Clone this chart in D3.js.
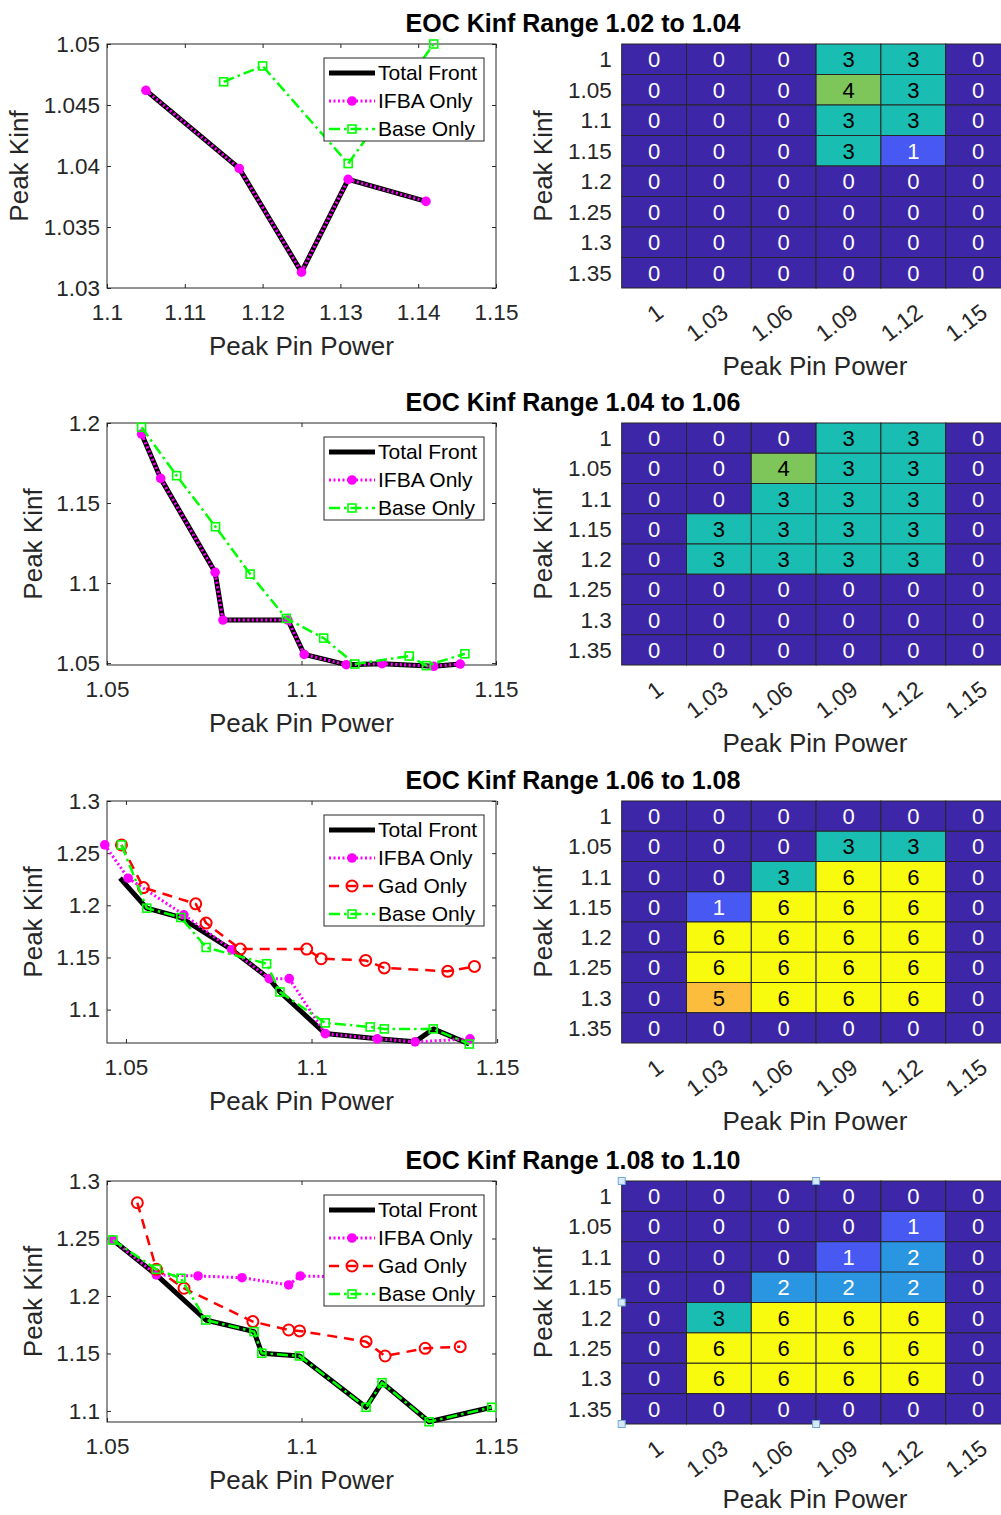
<!DOCTYPE html>
<html>
<head>
<meta charset="utf-8">
<script src="https://cdn.jsdelivr.net/npm/d3@7/dist/d3.min.js"></script>
<style>
  body { margin: 0; background: #fff; }
  svg { display: block; font-family: "Liberation Sans", Arial, sans-serif; }
</style>
</head>
<body>
<svg id="chart" width="1001" height="1515"></svg>
<script>
// ---- data ----
var titles = ['EOC Kinf Range 1.02 to 1.04', 'EOC Kinf Range 1.04 to 1.06',
              'EOC Kinf Range 1.06 to 1.08', 'EOC Kinf Range 1.08 to 1.10'];
var rowLabels = ['1', '1.05', '1.1', '1.15', '1.2', '1.25', '1.3', '1.35'];
var colLabels = ['1', '1.03', '1.06', '1.09', '1.12', '1.15'];

// [peak pin power, peak kinf]
var total1 = [[1.105,1.0462],[1.117,1.0398],[1.125,1.0313],[1.131,1.0389],[1.141,1.0371]];
var ifba1  = [[1.105,1.0462],[1.117,1.0398],[1.125,1.0313],[1.131,1.0389],[1.141,1.0371]];
var base1  = [[1.115,1.0469],[1.120,1.0482],[1.131,1.0402],[1.142,1.0500]];

var total2 = [[1.0589,1.1931],[1.0638,1.1654],[1.0778,1.1067],[1.0798,1.0769],[1.0965,1.0769],[1.1007,1.0554],
              [1.1115,1.0490],[1.1207,1.0496],[1.1340,1.0480],[1.1408,1.0494]];
var ifba2  = [[1.0589,1.1931],[1.0638,1.1654],[1.0778,1.1067],[1.0798,1.0769],[1.0965,1.0769],[1.1007,1.0554],
              [1.1115,1.0490],[1.1207,1.0496],[1.1340,1.0480],[1.1408,1.0494]];
var base2  = [[1.0589,1.1973],[1.0679,1.1671],[1.0779,1.1352],[1.0868,1.1056],[1.0961,1.0779],[1.1057,1.0656],
              [1.1137,1.0494],[1.1277,1.0544],[1.1321,1.0484],[1.1420,1.0558]];

var total3 = [[1.0484,1.2260],[1.0556,1.1973],[1.0648,1.1883],[1.0785,1.1574],[1.0886,1.1297],[1.0915,1.1169],
              [1.1037,1.0770],[1.1177,1.0720],[1.1279,1.0691],[1.1328,1.0815],[1.1425,1.0670]];
var ifba3  = [[1.0443,1.2579],[1.0506,1.2260],[1.0656,1.1909],[1.0785,1.1574],[1.0886,1.1297],[1.0940,1.1297],
              [1.1037,1.0770],[1.1177,1.0720],[1.1279,1.0691],[1.1427,1.0720]];
var gad3   = [[1.0488,1.2579],[1.0547,1.2170],[1.0688,1.2014],[1.0716,1.1830],[1.0808,1.1580],[1.0987,1.1580],
              [1.1026,1.1488],[1.1146,1.1472],[1.1196,1.1400],[1.1367,1.1367],[1.1439,1.1414]];
var base3  = [[1.0488,1.2579],[1.0556,1.1973],[1.0648,1.1883],[1.0716,1.1596],[1.0879,1.1440],[1.0915,1.1169],
              [1.1037,1.0873],[1.1158,1.0834],[1.1196,1.0815],[1.1328,1.0815],[1.1425,1.0670]];

var total4 = [[1.0515,1.2487],[1.0627,1.2183],[1.0754,1.1791],[1.0878,1.1690],[1.0898,1.1502],[1.0995,1.1478],
              [1.1166,1.1032],[1.1207,1.1246],[1.1328,1.0906],[1.1489,1.1032]];
var ifba4  = [[1.0515,1.2487],[1.0627,1.2183],[1.0734,1.2174],[1.0847,1.2159],[1.0967,1.2096],[1.0997,1.2174],
              [1.1120,1.2165],[1.1250,1.2160]];
var gad4   = [[1.0578,1.2811],[1.0627,1.2232],[1.0698,1.2067],[1.0875,1.1777],[1.0967,1.1704],[1.0995,1.1696],
              [1.1166,1.1603],[1.1215,1.1478],[1.1318,1.1545],[1.1408,1.1559]];
var base4  = [[1.0515,1.2487],[1.0627,1.2232],[1.0690,1.2154],[1.0754,1.1791],[1.0878,1.1690],[1.0898,1.1502],
              [1.0995,1.1478],[1.1166,1.1032],[1.1207,1.1246],[1.1328,1.0906],[1.1489,1.1032]];

var heat1 = [[0,0,0,3,3,0],[0,0,0,4,3,0],[0,0,0,3,3,0],[0,0,0,3,1,0],
             [0,0,0,0,0,0],[0,0,0,0,0,0],[0,0,0,0,0,0],[0,0,0,0,0,0]];
var heat2 = [[0,0,0,3,3,0],[0,0,4,3,3,0],[0,0,3,3,3,0],[0,3,3,3,3,0],
             [0,3,3,3,3,0],[0,0,0,0,0,0],[0,0,0,0,0,0],[0,0,0,0,0,0]];
var heat3 = [[0,0,0,0,0,0],[0,0,0,3,3,0],[0,0,3,6,6,0],[0,1,6,6,6,0],
             [0,6,6,6,6,0],[0,6,6,6,6,0],[0,5,6,6,6,0],[0,0,0,0,0,0]];
var heat4 = [[0,0,0,0,0,0],[0,0,0,0,1,0],[0,0,0,1,2,0],[0,0,2,2,2,0],
             [0,3,6,6,6,0],[0,6,6,6,6,0],[0,6,6,6,6,0],[0,0,0,0,0,0]];

// ---- styles ----
var AX = '#262626';
var parula = ['#3e26a8', '#4758f3', '#2a96e2', '#19bdb1', '#7ec65a', '#fcbd3d', '#f9fb0e'];
var color = d3.scaleLinear().domain([0, 1, 2, 3, 4, 5, 6]).range(parula);

var styles = {
  total: { name: 'Total Front', stroke: '#000000', width: 5, dash: null, marker: null },
  ifba:  { name: 'IFBA Only', stroke: '#ff00ff', width: 3, dash: '2,2.5', marker: 'dot' },
  gad:   { name: 'Gad Only', stroke: '#ff0000', width: 2.5, dash: '10,7', marker: 'ring' },
  base:  { name: 'Base Only', stroke: '#00ff00', width: 2.5, dash: '11,4,2.5,4', marker: 'square' }
};

var panels = [
  { top: 44, bottom: 288, x: [1.1, 1.15], y: [1.03, 1.05],
    xt: [1.1, 1.11, 1.12, 1.13, 1.14, 1.15], yt: [1.03, 1.035, 1.04, 1.045, 1.05], ylx: 19,
    series: [['total', total1], ['ifba', ifba1], ['base', base1]], heat: heat1 },
  { top: 423, bottom: 665, x: [1.05, 1.15], y: [1.0488, 1.2],
    xt: [1.05, 1.1, 1.15], yt: [1.05, 1.1, 1.15, 1.2], ylx: 33,
    series: [['total', total2], ['ifba', ifba2], ['base', base2]], heat: heat2 },
  { top: 801, bottom: 1043, x: [1.0449, 1.1497], y: [1.068, 1.3],
    xt: [1.05, 1.1, 1.15], yt: [1.1, 1.15, 1.2, 1.25, 1.3], ylx: 33,
    series: [['total', total3], ['ifba', ifba3], ['gad', gad3], ['base', base3]], heat: heat3 },
  { top: 1181, bottom: 1422, x: [1.05, 1.15], y: [1.0904, 1.3],
    xt: [1.05, 1.1, 1.15], yt: [1.1, 1.15, 1.2, 1.25, 1.3], ylx: 33,
    series: [['total', total4], ['ifba', ifba4], ['gad', gad4], ['base', base4]], heat: heat4, handles: true }
];

var LEFT = 107, RIGHT = 496;
var HM_LEFT = 621.7, HM_CELL = 64.8;
var fmt = function(v){ return String(+v.toFixed(3)); };

var svg = d3.select('#chart');

function drawMarkers(g, pts, st, x, y) {
  if (!st.marker) return;
  var m = g.selectAll(null).data(pts).enter();
  if (st.marker === 'dot') {
    m.append('circle').attr('cx', d => x(d[0])).attr('cy', d => y(d[1])).attr('r', 4.8)
      .attr('fill', st.stroke);
  } else if (st.marker === 'ring') {
    m.append('circle').attr('cx', d => x(d[0])).attr('cy', d => y(d[1])).attr('r', 5.5)
      .attr('fill', 'none').attr('stroke', st.stroke).attr('stroke-width', 2);
  } else {
    m.append('rect').attr('x', d => x(d[0]) - 4).attr('y', d => y(d[1]) - 4)
      .attr('width', 8).attr('height', 8)
      .attr('fill', 'none').attr('stroke', st.stroke).attr('stroke-width', 1.6);
  }
}

function drawLinePanel(p, i) {
  var x = d3.scaleLinear().domain(p.x).range([LEFT, RIGHT]);
  var y = d3.scaleLinear().domain(p.y).range([p.bottom, p.top]);
  var g = svg.append('g');

  g.append('rect').attr('x', LEFT).attr('y', p.top).attr('width', RIGHT - LEFT)
    .attr('height', p.bottom - p.top).attr('fill', '#fff');

  function styleAxis(a) {
    a.select('.domain').remove();
    a.selectAll('line').attr('stroke', AX);
    a.selectAll('text').attr('fill', AX).attr('font-size', 22.5).attr('font-family', null);
  }
  g.append('g').attr('transform', 'translate(0,' + p.bottom + ')')
    .call(d3.axisBottom(x).tickValues(p.xt).tickFormat(fmt).tickSize(-4).tickPadding(16)).call(styleAxis);
  g.append('g').attr('transform', 'translate(0,' + p.top + ')')
    .call(d3.axisTop(x).tickValues(p.xt).tickFormat('').tickSize(-4)).call(styleAxis);
  g.append('g').attr('transform', 'translate(' + LEFT + ',0)')
    .call(d3.axisLeft(y).tickValues(p.yt).tickFormat(fmt).tickSize(-4).tickPadding(7)).call(styleAxis);
  g.append('g').attr('transform', 'translate(' + RIGHT + ',0)')
    .call(d3.axisRight(y).tickValues(p.yt).tickFormat('').tickSize(-4)).call(styleAxis);

  g.append('rect').attr('x', LEFT).attr('y', p.top).attr('width', RIGHT - LEFT)
    .attr('height', p.bottom - p.top).attr('fill', 'none').attr('stroke', AX).attr('stroke-width', 1);

  var line = d3.line().x(d => x(d[0])).y(d => y(d[1]));
  p.series.forEach(function(s) {
    var st = styles[s[0]];
    g.append('path').datum(s[1]).attr('d', line).attr('fill', 'none')
      .attr('stroke', st.stroke).attr('stroke-width', st.width)
      .attr('stroke-dasharray', st.dash).attr('stroke-linejoin', 'round');
    drawMarkers(g, s[1], st, x, y);
  });

  // legend
  var lw = 160, rh = 28, n = p.series.length;
  var lx = RIGHT - 12 - lw, ly = p.top + 14;
  var lg = g.append('g');
  lg.append('rect').attr('x', lx).attr('y', ly).attr('width', lw).attr('height', n * rh - 1)
    .attr('fill', '#fff').attr('stroke', AX).attr('stroke-width', 1);
  p.series.forEach(function(s, k) {
    var st = styles[s[0]];
    var cy = ly + 15 + k * rh;
    lg.append('line').attr('x1', lx + 5).attr('x2', lx + 51).attr('y1', cy).attr('y2', cy)
      .attr('stroke', st.stroke).attr('stroke-width', st.width).attr('stroke-dasharray', st.dash);
    var lxs = d3.scaleLinear().domain([0, 1]).range([lx + 28, lx + 29]);
    var lys = d3.scaleLinear().domain([0, 1]).range([cy, cy + 1]);
    drawMarkers(lg, [[0, 0]], st, lxs, lys);
    lg.append('text').attr('x', lx + 54).attr('y', cy).attr('dy', '0.35em')
      .attr('font-size', 21).attr('fill', '#000').text(st.name);
  });

  // axis labels
  g.append('text').attr('x', (LEFT + RIGHT) / 2).attr('y', p.bottom + 58).attr('dy', '0.35em')
    .attr('text-anchor', 'middle').attr('font-size', 26).attr('fill', AX).text('Peak Pin Power');
  g.append('text').attr('transform', 'translate(' + p.ylx + ',' + (p.top + p.bottom) / 2 + ') rotate(-90)')
    .attr('dy', '0.35em').attr('text-anchor', 'middle').attr('font-size', 26).attr('fill', AX).text('Peak Kinf');

  // title
  svg.append('text').attr('x', 573).attr('y', p.top - 21).attr('dy', '0.35em')
    .attr('text-anchor', 'middle').attr('font-size', 25).attr('font-weight', 'bold')
    .attr('fill', '#000').text(titles[i]);
}

function drawHeatmap(p) {
  var hb = p.bottom + (p.handles ? 2 : 0);
  var x = d3.scaleBand().domain(colLabels).range([HM_LEFT, HM_LEFT + HM_CELL * colLabels.length]);
  var y = d3.scaleBand().domain(rowLabels).range([p.top, hb]);
  var g = svg.append('g');
  var cells = [];
  p.heat.forEach(function(row, r) {
    row.forEach(function(v, c) { cells.push({ r: rowLabels[r], c: colLabels[c], v: v }); });
  });
  g.selectAll('rect.cell').data(cells).enter().append('rect').attr('class', 'cell')
    .attr('x', d => x(d.c)).attr('y', d => y(d.r))
    .attr('width', x.bandwidth()).attr('height', y.bandwidth())
    .attr('fill', d => color(d.v)).attr('stroke', AX).attr('stroke-width', 1);
  g.selectAll('text.val').data(cells).enter().append('text').attr('class', 'val')
    .attr('x', d => x(d.c) + x.bandwidth() / 2).attr('y', d => y(d.r) + y.bandwidth() / 2)
    .attr('dy', '0.36em').attr('text-anchor', 'middle').attr('font-size', 22)
    .attr('fill', d => d.v >= 3 ? '#000' : '#fff').text(d => d.v);

  g.selectAll('text.rl').data(rowLabels).enter().append('text').attr('class', 'rl')
    .attr('x', HM_LEFT - 10).attr('y', d => y(d) + y.bandwidth() / 2).attr('dy', '0.35em')
    .attr('text-anchor', 'end').attr('font-size', 22.5).attr('fill', AX).text(d => d);
  g.selectAll('text.cl').data(colLabels).enter().append('text').attr('class', 'cl')
    .attr('transform', d => 'translate(' + (x(d) + x.bandwidth() / 2 + 6) + ',' + (hb + 21) + ') rotate(-37)')
    .attr('dy', '0.35em').attr('text-anchor', 'end').attr('font-size', 23).attr('fill', AX).text(d => d);

  g.append('text').attr('x', 815).attr('y', Math.min(hb + 78, 1499)).attr('dy', '0.35em')
    .attr('text-anchor', 'middle').attr('font-size', 26).attr('fill', AX).text('Peak Pin Power');
  g.append('text').attr('transform', 'translate(543,' + (p.top + hb) / 2 + ') rotate(-90)')
    .attr('dy', '0.35em').attr('text-anchor', 'middle').attr('font-size', 26).attr('fill', AX).text('Peak Kinf');

  if (p.handles) {
    var xl = HM_LEFT, xm = HM_LEFT + HM_CELL * 3, ym = (p.top + hb) / 2;
    var hs = [[xl, p.top], [xm, p.top], [xl, ym], [xl, hb], [xm, hb]];
    g.selectAll('rect.h').data(hs).enter().append('rect').attr('class', 'h')
      .attr('x', d => d[0] - 3.5).attr('y', d => d[1] - 3.5).attr('width', 7).attr('height', 7)
      .attr('fill', '#d7e9f7').attr('stroke', '#6fa8d6').attr('stroke-width', 1);
  }
}

panels.forEach(function(p, i) {
  drawLinePanel(p, i);
  drawHeatmap(p);
});
</script>
</body>
</html>
